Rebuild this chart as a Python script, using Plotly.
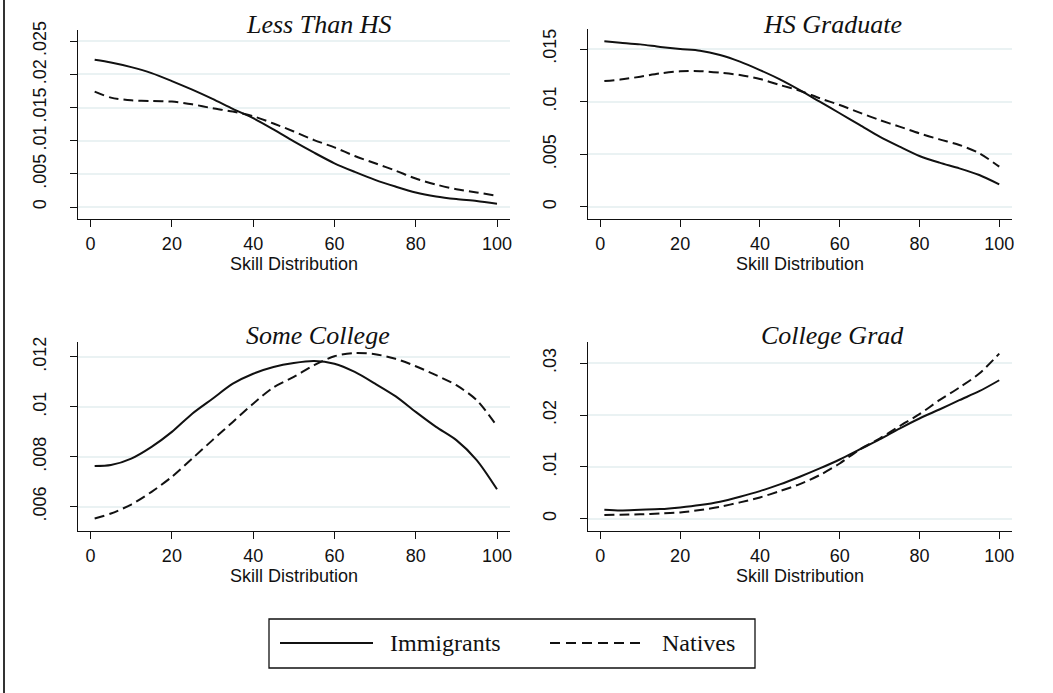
import plotly.graph_objects as go

# ---------------- data ----------------
skill = [1, 5, 10, 15, 20, 25, 30, 35, 40, 45, 50, 55, 60, 65, 70, 75, 80, 85, 90, 95, 100]

panel_titles = ["Less Than HS", "HS Graduate", "Some College", "College Grad"]

imm_less_hs = [.0222, .0218, .0211, .0202, .0190, .0177, .0163, .0148, .0134, .0117, .0099,
               .0082, .0066, .0053, .0041, .0031, .0022, .0016, .0012, .0009, .0005]
nat_less_hs = [.0174, .0165, .0161, .0160, .0159, .0155, .0149, .0144, .0137, .0126, .0114,
               .0101, .0090, .0077, .0066, .0055, .0043, .0034, .0027, .0022, .0017]

imm_hs_grad = [.01573, .0156, .01544, .0152, .0150, .01484, .01443, .0138, .0130, .01212, .0111,
               .0100, .0089, .0078, .00668, .00573, .00484, .00421, .00367, .00304, .00215]
nat_hs_grad = [.01196, .0121, .01237, .01269, .01288, .0129, .01275, .01253, .01215, .01158, .01104,
               .01032, .00968, .00896, .00826, .00763, .00699, .00642, .00589, .0051, .00383]

imm_some_col = [.00763, .00767, .00793, .0084, .0090, .00973, .01033, .01093, .01133, .01160, .01176,
                .01184, .01173, .0114, .01093, .01043, .0098, .0092, .00867, .00787, .0067]
nat_some_col = [.00553, .00573, .00609, .0066, .0072, .00793, .00867, .0094, .01013, .01078, .0112,
                .01167, .01203, .01216, .01211, .01193, .01163, .01127, .01087, .01027, .00923]

imm_col_grad = [.00173, .0016, .00173, .00186, .00218, .00263, .00328, .00424, .00533, .00662, .0081,
                .0097, .01143, .01336, .01529, .0174, .01934, .02107, .02287, .0246, .02672]
nat_col_grad = [.0007, .00077, .00084, .00103, .00122, .00167, .00231, .00315, .00411, .00533, .00668,
                .00842, .01066, .01336, .01548, .01786, .02017, .02287, .02531, .02801, .03186]

x_ticks = [0, 20, 40, 60, 80, 100]
y_tickvals = [
    [0, .005, .01, .015, .02, .025],
    [0, .005, .01, .015],
    [.006, .008, .01, .012],
    [0, .01, .02, .03],
]
y_ticktext = [
    ["0", ".005", ".01", ".015", ".02", ".025"],
    ["0", ".005", ".01", ".015"],
    [".006", ".008", ".01", ".012"],
    ["0", ".01", ".02", ".03"],
]
y_ranges = [[-0.0018, 0.0267], [-0.00114, 0.0169], [0.00503, 0.0126], [-0.00237, 0.0341]]
x_range = [-3.1, 103.2]

series_names = ["Immigrants", "Natives"]
immigrants = [imm_less_hs, imm_hs_grad, imm_some_col, imm_col_grad]
natives = [nat_less_hs, nat_hs_grad, nat_some_col, nat_col_grad]

# ---------------- layout geometry (pixels) ----------------
W, H = 1053, 693
boxes = [  # left, right, top, bottom
    (78, 510, 30, 219),
    (588, 1012, 29, 219),
    (78, 510, 342, 531),
    (588, 1012, 342, 531),
]
title_centers = [(318, 24), (832, 24), (318, 335), (832, 335)]

SANS = "Arial, 'Liberation Sans', sans-serif"
SERIF = "'Times New Roman', 'Liberation Serif', serif"
GRID = "#eaf2f3"
INK = "#111111"

fig = go.Figure()
layout = dict(
    width=W, height=H, margin=dict(l=0, r=0, t=0, b=0, autoexpand=False),
    paper_bgcolor="white", plot_bgcolor="white", showlegend=False,
    font=dict(family=SANS, size=18, color=INK),
)

annotations = []
shapes = []
for i in range(4):
    l, r, t, b = boxes[i]
    xa = "xaxis" if i == 0 else f"xaxis{i+1}"
    ya = "yaxis" if i == 0 else f"yaxis{i+1}"
    xref = "x" if i == 0 else f"x{i+1}"
    yref = "y" if i == 0 else f"y{i+1}"
    layout[xa] = dict(
        domain=[l / W, r / W], range=x_range, anchor=yref, automargin=False,
        tickvals=x_ticks, ticks="outside", ticklen=7, tickwidth=1.3, tickcolor=INK,
        showline=True, linecolor=INK, linewidth=1.3, showgrid=False, zeroline=False,
        tickfont=dict(family=SANS, size=18, color=INK),
        ticklabelstandoff=1,
        title=dict(text="Skill Distribution", font=dict(family=SANS, size=18, color=INK), standoff=0),
    )
    layout[ya] = dict(
        domain=[1 - b / H, 1 - t / H], range=y_ranges[i], anchor=xref, automargin=False,
        tickvals=y_tickvals[i], ticktext=y_ticktext[i], tickangle=-90,
        ticks="outside", ticklen=7, tickwidth=1.3, tickcolor=INK,
        showline=True, linecolor=INK, linewidth=1.3,
        showgrid=True, gridcolor=GRID, gridwidth=1.5, zeroline=False,
        tickfont=dict(family=SANS, size=18, color=INK),
        ticklabelstandoff=17,
    )
    fig.add_trace(go.Scatter(x=skill, y=immigrants[i], mode="lines", name=series_names[0],
                             line=dict(color=INK, width=2, shape="spline", smoothing=0.8),
                             xaxis=xref, yaxis=yref))
    fig.add_trace(go.Scatter(x=skill, y=natives[i], mode="lines", name=series_names[1],
                             line=dict(color=INK, width=2, dash="10px,5px", shape="spline", smoothing=0.8),
                             xaxis=xref, yaxis=yref))
    cx, cy = title_centers[i]
    annotations.append(dict(
        text=f"<i>{panel_titles[i]}</i>", x=cx / W, y=1 - cy / H, xref="paper", yref="paper",
        xanchor="center", yanchor="middle", showarrow=False,
        font=dict(family=SERIF, size=26, color=INK),
    ))

# legend box (custom, Stata-like)
lg_l, lg_r, lg_t, lg_b = 269, 755, 619, 668
lg_y = 1 - 643 / H
shapes.append(dict(type="rect", xref="paper", yref="paper",
                   x0=lg_l / W, x1=lg_r / W, y0=1 - lg_b / H, y1=1 - lg_t / H,
                   line=dict(color=INK, width=1.3), fillcolor="white"))
shapes.append(dict(type="line", xref="paper", yref="paper", x0=280 / W, x1=373 / W, y0=lg_y, y1=lg_y,
                   line=dict(color=INK, width=2)))
shapes.append(dict(type="line", xref="paper", yref="paper", x0=550 / W, x1=643 / W, y0=lg_y, y1=lg_y,
                   line=dict(color=INK, width=2, dash="10px,6px")))
annotations.append(dict(text=series_names[0], x=388 / W, y=lg_y, xref="paper", yref="paper",
                        xanchor="left", yanchor="middle", showarrow=False,
                        font=dict(family=SERIF, size=24, color=INK)))
annotations.append(dict(text=series_names[1], x=660 / W, y=lg_y, xref="paper", yref="paper",
                        xanchor="left", yanchor="middle", showarrow=False,
                        font=dict(family=SERIF, size=24, color=INK)))
# left frame edge
shapes.append(dict(type="line", xref="paper", yref="paper", x0=4 / W, x1=4 / W, y0=0, y1=1,
                   line=dict(color="#333333", width=2)))

layout["annotations"] = annotations
layout["shapes"] = shapes
fig.update_layout(**layout)
fig.write_html("out.html", config={"displayModeBar": False},
               post_script="document.body.style.margin='0';document.body.style.padding='0';")
